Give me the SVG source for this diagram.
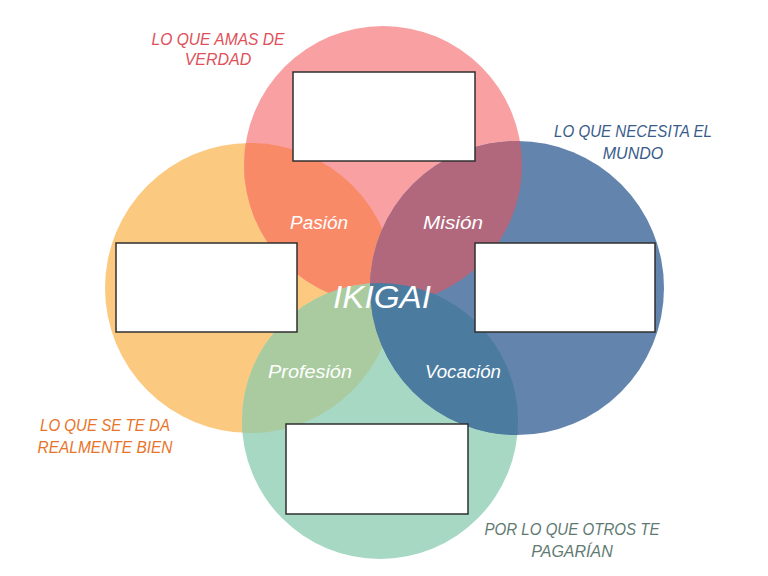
<svg xmlns="http://www.w3.org/2000/svg" width="768" height="576" viewBox="0 0 768 576">
<style>
.box{fill:#fff;stroke:#2f2f2f;stroke-width:1.5}
.lbl{font-family:"Liberation Sans",Arial,sans-serif;font-style:italic;font-size:16px;text-anchor:middle}
.in{font-family:"Liberation Sans",Arial,sans-serif;font-style:italic;fill:#fff;text-anchor:middle}
</style>
<defs>
<clipPath id="cP"><circle cx="383" cy="165" r="139"/></clipPath>
<clipPath id="cO"><circle cx="250" cy="288" r="145"/></clipPath>
<clipPath id="cG"><circle cx="380" cy="421" r="138"/></clipPath>
<clipPath id="cB"><circle cx="517" cy="288" r="147"/></clipPath>
</defs>
<rect width="768" height="576" fill="#fff"/>
<g id="circles">
<circle cx="250" cy="288" r="145" fill="#FCC981"/>
<circle cx="383" cy="165" r="139" fill="#F9A0A3"/>
<circle cx="250" cy="288" r="145" fill="#F98A68" clip-path="url(#cP)"/>
<circle cx="380" cy="421" r="138" fill="#A6D8C4"/>
<g clip-path="url(#cP)"><circle cx="380" cy="421" r="138" fill="#E9A48A"/></g>
<circle cx="380" cy="421" r="138" fill="#A9CB9F" clip-path="url(#cO)"/>
<circle cx="517" cy="288" r="147" fill="#6384AD"/>
<circle cx="517" cy="288" r="147" fill="#B1687D" clip-path="url(#cP)"/>
<circle cx="517" cy="288" r="147" fill="#4B7C9F" clip-path="url(#cG)"/>
</g>
<g id="node-top"><rect class="box" x="293" y="72" width="182" height="89"/></g>
<g id="node-left"><rect class="box" x="116" y="243" width="181" height="89"/></g>
<g id="node-right"><rect class="box" x="475" y="243" width="180" height="89"/></g>
<g id="node-bottom"><rect class="box" x="286" y="424" width="182" height="90"/></g>
<g id="label-amas" class="lbl" fill="#E0505A">
<text x="218" y="45" textLength="133" lengthAdjust="spacingAndGlyphs">LO QUE AMAS DE</text>
<text x="218" y="65">VERDAD</text>
</g>
<g id="label-mundo" class="lbl" fill="#3A5C8A">
<text x="633" y="137" textLength="158" lengthAdjust="spacingAndGlyphs">LO QUE NECESITA EL</text>
<text x="633" y="159">MUNDO</text>
</g>
<g id="label-bien" class="lbl" fill="#E8742A">
<text x="105" y="431" textLength="130" lengthAdjust="spacingAndGlyphs">LO QUE SE TE DA</text>
<text x="105" y="453" textLength="135" lengthAdjust="spacingAndGlyphs">REALMENTE BIEN</text>
</g>
<g id="label-pagarian" class="lbl" fill="#5F7A72">
<text x="572" y="535" textLength="175" lengthAdjust="spacingAndGlyphs">POR LO QUE OTROS TE</text>
<text x="572" y="557">PAGARÍAN</text>
</g>
<g id="center-labels">
<text class="in" x="319" y="229" font-size="19" textLength="58" lengthAdjust="spacingAndGlyphs">Pasión</text>
<text class="in" x="453" y="229" font-size="19" textLength="60" lengthAdjust="spacingAndGlyphs">Misión</text>
<text class="in" x="310" y="378" font-size="19" textLength="84" lengthAdjust="spacingAndGlyphs">Profesión</text>
<text class="in" x="463" y="378" font-size="19" textLength="76" lengthAdjust="spacingAndGlyphs">Vocación</text>
<text class="in" x="382" y="308" font-size="32" textLength="98" lengthAdjust="spacingAndGlyphs">IKIGAI</text>
</g>
</svg>
